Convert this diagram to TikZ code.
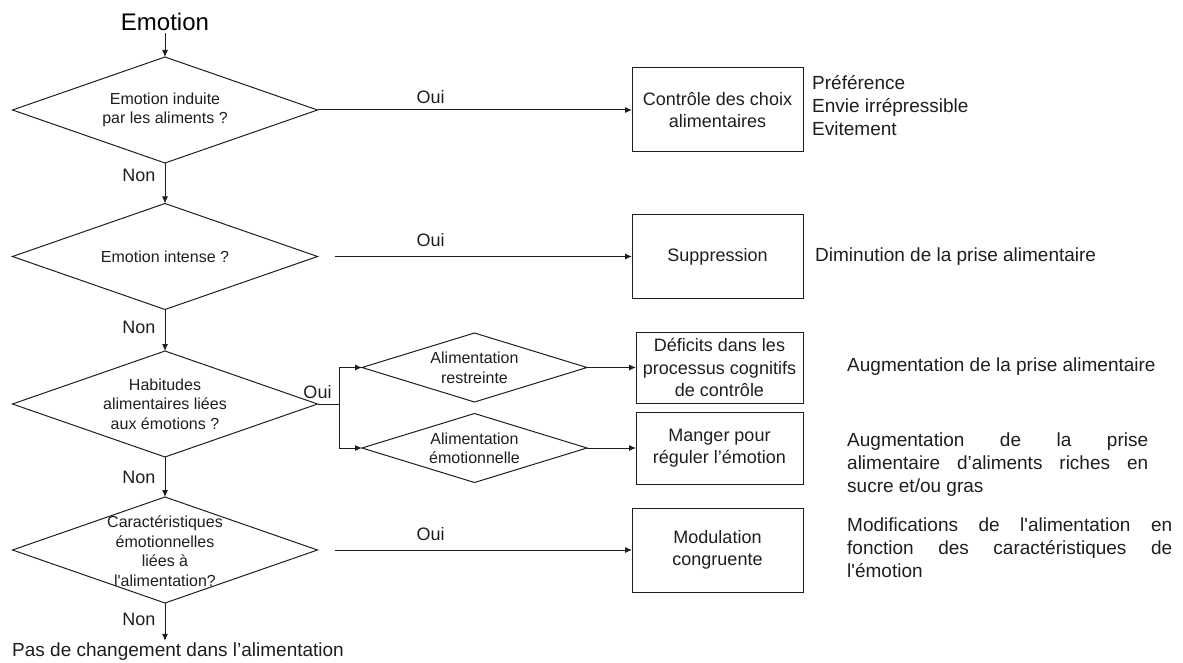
\documentclass[tikz,border=0pt]{standalone}
\usepackage{fontspec}
\setmainfont{Liberation Sans}[Ligatures=TeXOff]
\usetikzlibrary{shapes.geometric,arrows.meta}
\definecolor{ink}{RGB}{30,30,30}
\begin{document}
\begin{tikzpicture}[x=1pt,y=-1pt,
  every node/.style={text=ink},
  conn/.style={draw=ink, line width=1pt},
  arr/.style={conn, -{Latex[length=7pt,width=6pt]}},
  dec/.style={diamond, draw=ink, line width=1pt, minimum width=305pt, minimum height=106pt, inner sep=0pt, outer sep=0pt},
  sdec/.style={diamond, draw=ink, line width=1pt, minimum width=225pt, minimum height=69pt, inner sep=0pt, outer sep=0pt},
  dtxt/.style={align=center, font=\fontsize{16}{19.5}\selectfont, inner sep=0pt},
  rbox/.style={draw=ink, line width=1pt, align=center, font=\fontsize{18}{22.5}\selectfont, inner sep=0pt, outer sep=0pt},
  lbl/.style={font=\fontsize{18}{21}\selectfont, inner sep=0pt},
  rtxt/.style={anchor=west, align=left, font=\fontsize{19}{23}\selectfont, inner sep=0pt},
]
\useasboundingbox (0,0) rectangle (1183,663);

% title
\node[font=\fontsize{24}{28}\selectfont, inner sep=0pt, text=black] (title) at (165,22) {Emotion};

% main decisions
\node[dec] (d1) at (165,110) {};
\node[dtxt] (t1) at (165,110) {Emotion induite\\par les aliments ?};
\node[dec] (d2) at (165,256.5) {};
\node[dtxt] (t2) at (165,257) {Emotion intense ?};
\node[dec] (d3) at (165,404) {};
\node[dtxt] (t3) at (165,404) {Habitudes\\alimentaires liées\\aux émotions ?};
\node[dec] (d4) at (165,550) {};
\node[dtxt] (t4) at (165,551) {Caractéristiques\\émotionnelles\\liées à\\l'alimentation?};

% sub decisions
\node[sdec] (s1) at (474.5,367.5) {};
\node[dtxt] (st1) at (474.5,368) {Alimentation\\restreinte};
\node[sdec] (s2) at (474.5,448) {};
\node[dtxt] (st2) at (474.5,448.5) {Alimentation\\émotionnelle};

% boxes
\node[rbox, minimum width=171pt, minimum height=84pt] (b1) at (717.5,110) {Contrôle des choix\\alimentaires};
\node[rbox, minimum width=171pt, minimum height=83pt] (b2) at (717.5,256.5) {Suppression};
\node[rbox, minimum width=167pt, minimum height=71pt] (b3) at (719.5,367.5) {Déficits dans les\\processus cognitifs\\de contrôle};
\node[rbox, minimum width=167pt, minimum height=72pt] (b4) at (719.5,448) {Manger pour\\réguler l’émotion};
\node[rbox, minimum width=171pt, minimum height=84pt] (b5) at (717.5,550) {Modulation\\congruente};

% right texts
\node[rtxt] (r1) at (812,106) {Préférence\\Envie irrépressible\\Evitement};
\node[rtxt] (r2) at (815,257) {Diminution de la prise alimentaire};
\node[rtxt] (r3) at (847,367) {Augmentation de la prise alimentaire};
\node[rtxt] (r4) at (847,465) {\makebox[301pt][s]{Augmentation de la prise}\\\makebox[301pt][s]{alimentaire d’aliments riches en}\\sucre et/ou gras};
\node[rtxt] (r5) at (847,548) {\makebox[325pt][s]{Modifications de l'alimentation en}\\\makebox[325pt][s]{fonction des caractéristiques de}\\l'émotion};

% end text
\node[font=\fontsize{19}{22}\selectfont, anchor=west, inner sep=0pt] (endt) at (12,652) {Pas de changement dans l’alimentation};

% connectors
\draw[arr, shorten <=2pt] (title.south) -- (d1.north);
\draw[arr] (d1.south) -- node[lbl, pos=.3, left=9pt] (n1) {Non} (d2.north);
\draw[arr] (d2.south) -- node[lbl, pos=.42, left=9pt] (n2) {Non} (d3.north);
\draw[arr] (d3.south) -- node[lbl, pos=.52, left=9pt] (n3) {Non} (d4.north);
\draw[arr, shorten >=2pt] (d4.south) -- node[lbl, pos=.4, left=9pt] (n4) {Non} (d4.south |- endt.north);

\draw[arr] (d1.east) -- node[lbl, pos=.36, above=6pt] (o1) {Oui} (b1.west);
\draw[arr, shorten <=17pt] (d2.east) -- node[lbl, pos=.36, above=9pt] (o2) {Oui} (b2.west);
\draw[conn] (d3.east) -- ++(22,0) coordinate (fork);
\node[lbl, above=5pt] (o3) at (d3.east) {Oui};
\draw[arr] (fork) |- (s1.west);
\draw[arr] (fork) |- (s2.west);
\draw[arr] (s1.east) -- (b3.west);
\draw[arr] (s2.east) -- (b4.west);
\draw[arr, shorten <=17pt] (d4.east) -- node[lbl, pos=.36, above=9pt] (o4) {Oui} (b5.west);
\end{tikzpicture}
\end{document}
